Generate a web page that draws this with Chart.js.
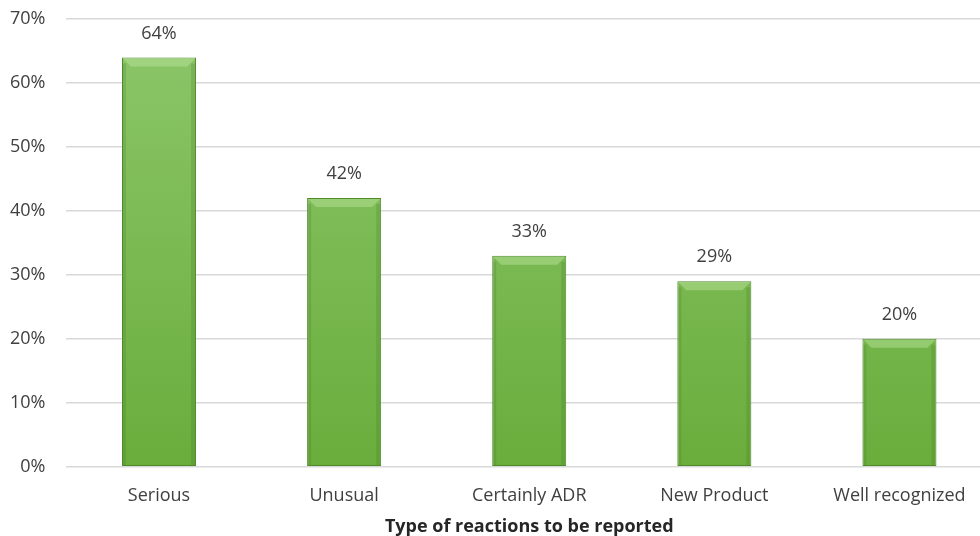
<!DOCTYPE html>
<html>
<head>
<meta charset="utf-8">
<script src="https://cdn.jsdelivr.net/npm/chart.js@4/dist/chart.umd.min.js"></script>
<style>
html, body { margin: 0; padding: 0; background: #fff; overflow: hidden; }
#wrap { width: 992px; height: 536px; }
</style>
</head>
<body>
<div id="wrap"><canvas id="myChart"></canvas></div>
<script>
var labels = ['Serious', 'Unusual', 'Certainly ADR', 'New Product', 'Well recognized'];
var values = [64, 42, 33, 29, 20];
var yTicks = [0, 10, 20, 30, 40, 50, 60, 70];
var axisTitle = 'Type of reactions to be reported';

Chart.defaults.font.family = "'Open Sans', sans-serif";
Chart.defaults.color = '#404040';

function barFill(context) {
	var chart = context.chart;
	var area = chart.chartArea;
	if (!area) return '#78b84e';
	var g = chart.ctx.createLinearGradient(0, area.top, 0, area.bottom);
	g.addColorStop(0, '#8cc76a');
	g.addColorStop(1, '#6aad3c');
	return g;
}

// top bevel + value labels over the bars
var barExtras = {
	id: 'barExtras',
	afterDatasetsDraw: function(chart) {
		var ctx = chart.ctx;
		var meta = chart.getDatasetMeta(0);
		meta.data.forEach(function(bar, i) {
			var half = bar.width / 2;
			var l = bar.x - half, r = bar.x + half, t = bar.y;
			ctx.save();
			ctx.fillStyle = 'rgba(190,230,160,0.45)';
			ctx.beginPath();
			ctx.moveTo(l + 1, t + 1);
			ctx.lineTo(r - 1, t + 1);
			ctx.lineTo(r - 9, t + 9);
			ctx.lineTo(l + 9, t + 9);
			ctx.closePath();
			ctx.fill();
			ctx.fillStyle = 'rgba(60,110,30,0.2)';
			ctx.fillRect(r - 5, t + 6, 4, bar.base - t - 7);
			ctx.fillRect(l + 1, t + 6, 3, bar.base - t - 7);
			ctx.restore();

			ctx.save();
			ctx.fillStyle = '#404040';
			ctx.font = "18px 'Open Sans', sans-serif";
			ctx.textAlign = 'center';
			ctx.textBaseline = 'middle';
			ctx.fillText(values[i] + '%', bar.x, bar.y - 24);
			ctx.restore();
		});
	}
};

var chart = new Chart(document.getElementById('myChart').getContext('2d'), {
	type: 'bar',
	data: {
		labels: labels,
		datasets: [{
			data: values,
			backgroundColor: barFill,
			borderColor: '#4e8a2c',
			borderWidth: 1,
			borderSkipped: false,
			barPercentage: 0.4,
			categoryPercentage: 1
		}]
	},
	options: {
		responsive: true,
		maintainAspectRatio: false,
		animation: false,
		layout: {
			padding: { left: -11, top: 19, right: 0, bottom: 0 }
		},
		plugins: {
			legend: { display: false },
			tooltip: { enabled: false }
		},
		scales: {
			x: {
				grid: { display: false, drawTicks: false },
				border: { display: false },
				ticks: { font: { size: 18 }, padding: 18, color: '#404040' },
				title: {
					display: true,
					text: axisTitle,
					font: { size: 18, weight: 'bold' },
					color: '#262626',
					padding: { top: -8, bottom: -2 }
				}
			},
			y: {
				min: 0,
				max: 70,
				afterBuildTicks: function(scale) {
					scale.ticks = yTicks.map(function(v) { return { value: v }; });
				},
				afterFit: function(scale) {
					scale.paddingTop = 0;
					scale.paddingBottom = 0;
				},
				grid: { color: '#d9d9d9', lineWidth: 1.5, drawTicks: false },
				border: { display: false },
				ticks: {
					font: { size: 18 },
					padding: 21,
					color: '#404040',
					callback: function(v) { return v + '%'; }
				}
			}
		}
	},
	plugins: [barExtras]
});
</script>
</body>
</html>
